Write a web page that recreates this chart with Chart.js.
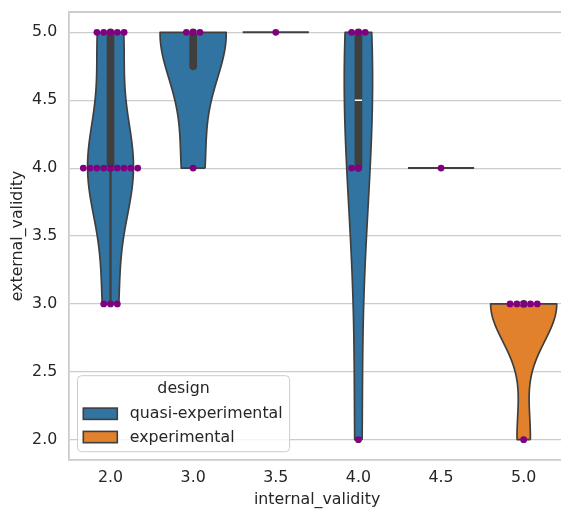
<!DOCTYPE html>
<html>
<head>
<meta charset="utf-8">
<script src="https://cdn.jsdelivr.net/npm/chart.js@4.4.1/dist/chart.umd.min.js"></script>
<style>
  html, body { margin: 0; padding: 0; background: #ffffff; overflow: hidden; }
  #wrap { width: 561px; height: 510px; overflow: hidden; position: relative; }
  canvas { display: block; }
</style>
</head>
<body>
<div id="wrap"><canvas id="chart" width="566" height="510"></canvas></div>
<script>
// internal_validity levels (x categories) and y tick values
const categories = ['2.0', '3.0', '3.5', '4.0', '4.5', '5.0'];
const yTicks = [2.0, 2.5, 3.0, 3.5, 4.0, 4.5, 5.0];

// external_validity observations for each internal_validity level, per design
const quasiExperimental = [
  [5, 5, 5, 5, 5, 4, 4, 4, 4, 4, 4, 4, 4, 4, 3, 3, 3],
  [5, 5, 5, 4],
  [5],
  [5, 5, 5, 4, 4, 2],
  [4],
  []
];
const experimental = [
  [], [], [], [], [],
  [3, 3, 3, 3, 3, 2]
];
const designs = ['quasi-experimental', 'experimental'];

// styling
const FONT = 'DejaVu Sans';
const FONT_SIZE = 15.8;
const TEXT = '#262626';
const GRID = '#cccccc';
const EDGE = '#3f3f3f';
const designColors = ['#3274a1', '#e1812c'];
const POINT_COLOR = '#800080';
const VIOLIN_WIDTH = 0.8;     // in category units
const POINT_RADIUS = 3.4;
const SWARM_STEP = 6.8;       // px between neighbouring swarm points

// Gaussian KDE with Scott's bandwidth, evaluated between min and max (cut = 0)
function kde(obs, gridsize = 100) {
  const n = obs.length;
  const mean = obs.reduce((a, b) => a + b, 0) / n;
  const sd = Math.sqrt(obs.reduce((a, b) => a + (b - mean) ** 2, 0) / (n - 1));
  const bw = sd * Math.pow(n, -1 / 5);
  const lo = Math.min(...obs), hi = Math.max(...obs);
  const support = [], density = [];
  for (let i = 0; i < gridsize; i++) {
    const y = lo + (hi - lo) * i / (gridsize - 1);
    let d = 0;
    for (const v of obs) d += Math.exp(-0.5 * ((y - v) / bw) ** 2);
    support.push(y);
    density.push(d / (n * bw * Math.sqrt(2 * Math.PI)));
  }
  return { support, density };
}

function percentile(sorted, p) {
  const idx = (sorted.length - 1) * p;
  const lo = Math.floor(idx), hi = Math.ceil(idx);
  return sorted[lo] + (sorted[hi] - sorted[lo]) * (idx - lo);
}

const datasets = [];
[quasiExperimental, experimental].forEach((series, h) => {
  const fits = series.map(obs => new Set(obs).size > 1 ? kde(obs) : null);
  // area normalisation within each design
  const maxD = Math.max(...fits.filter(Boolean).map(f => Math.max(...f.density)));
  series.forEach((obs, i) => {
    if (!obs.length) return;
    const fit = fits[i];
    if (fit) {
      const half = d => d / maxD * VIOLIN_WIDTH / 2;
      const right = fit.support.map((y, k) => ({ x: i + half(fit.density[k]), y }));
      const left = fit.support.map((y, k) => ({ x: i - half(fit.density[k]), y })).reverse();
      datasets.push({
        type: 'line', data: [...right, ...left, right[0]],
        backgroundColor: designColors[h], borderColor: EDGE, borderWidth: 1.7,
        borderJoinStyle: 'round',
        fill: 'shape', pointRadius: 0, tension: 0.0001, order: 5
      });
      // inner box: whiskers, interquartile bar, median tick
      const s = [...obs].sort((a, b) => a - b);
      const q1 = percentile(s, 0.25), q3 = percentile(s, 0.75), med = percentile(s, 0.5);
      const iqr = q3 - q1;
      const wlo = Math.min(q1, ...s.filter(v => v >= q1 - 1.5 * iqr));
      const whi = Math.max(q3, ...s.filter(v => v <= q3 + 1.5 * iqr));
      datasets.push({
        type: 'line', data: [{ x: i, y: wlo }, { x: i, y: whi }],
        borderColor: EDGE, borderWidth: 2.4, pointRadius: 0, fill: false, order: 4
      });
      datasets.push({
        type: 'line', data: [{ x: i, y: q1 }, { x: i, y: q3 > q1 ? q3 : q1 + 1e-4 }],
        borderColor: EDGE, borderWidth: 7.7, borderCapStyle: 'round',
        pointRadius: 0, fill: false, order: 3
      });
      datasets.push({
        type: 'scatter', data: [{ x: i, y: med }],
        pointStyle: 'line', pointRadius: 3.6, pointBorderColor: '#ffffff',
        pointBorderWidth: 1.6, order: 2
      });
    } else {
      // a single distinct value is drawn as a flat line across the violin width
      datasets.push({
        type: 'line',
        data: [{ x: i - VIOLIN_WIDTH / 2, y: obs[0] }, { x: i + VIOLIN_WIDTH / 2, y: obs[0] }],
        borderColor: EDGE, borderWidth: 2, pointRadius: 0, fill: false, order: 5
      });
    }
    // swarm points: equal values spread sideways, centre first then left/right
    const counts = {};
    const pts = obs.map(v => {
      const k = counts[v] = (counts[v] || 0) + 1;
      const slot = k === 1 ? 0 : (k % 2 === 0 ? -(k / 2) : (k - 1) / 2);
      return { x: i, y: v, slot };
    });
    datasets.push({
      type: 'scatter', data: pts, swarm: true,
      pointRadius: POINT_RADIUS, pointBackgroundColor: POINT_COLOR,
      pointBorderWidth: 0, order: 1
    });
  });
});

const swarmShift = {
  id: 'swarmShift',
  afterDatasetsUpdate(chart) {
    const xs = chart.scales.x;
    chart.data.datasets.forEach((ds, di) => {
      if (!ds.swarm) return;
      chart.getDatasetMeta(di).data.forEach((pt, k) => {
        pt.x = xs.getPixelForValue(ds.data[k].x) + ds.data[k].slot * SWARM_STEP;
      });
    });
  }
};

// top and right spines
const frame = {
  id: 'frame',
  beforeDatasetsDraw(chart) {
    const { ctx, chartArea: a } = chart;
    ctx.save();
    ctx.strokeStyle = GRID;
    ctx.lineWidth = 1.8;
    ctx.beginPath();
    ctx.moveTo(a.left, a.top);
    ctx.lineTo(a.right, a.top);
    ctx.lineTo(a.right, a.bottom);
    ctx.stroke();
    ctx.restore();
  }
};

const designLegend = {
  id: 'designLegend',
  afterDraw(chart) {
    const { ctx, chartArea: a } = chart;
    ctx.save();
    ctx.font = `${FONT_SIZE}px "${FONT}"`;
    const textW = Math.max(...designs.map(t => ctx.measureText(t).width));
    const x0 = a.left + 8.3, y1 = a.bottom - 8.3;
    const w = 52.3 + textW + 7, h = 76;
    const y0 = y1 - h;
    ctx.beginPath();
    ctx.roundRect(x0, y0, w, h, 4);
    ctx.fillStyle = 'rgba(255,255,255,0.8)';
    ctx.fill();
    ctx.strokeStyle = GRID;
    ctx.lineWidth = 1;
    ctx.stroke();
    ctx.fillStyle = TEXT;
    ctx.textBaseline = 'middle';
    ctx.textAlign = 'center';
    ctx.fillText('design', x0 + w / 2, y0 + 13.5);
    ctx.textAlign = 'left';
    designs.forEach((t, k) => {
      const cy = y0 + 38 + k * 23.3;
      ctx.fillStyle = designColors[k];
      ctx.fillRect(x0 + 5.8, cy - 5.6, 34, 11.3);
      ctx.strokeStyle = EDGE;
      ctx.lineWidth = 1.6;
      ctx.strokeRect(x0 + 5.8, cy - 5.6, 34, 11.3);
      ctx.fillStyle = TEXT;
      ctx.fillText(t, x0 + 52.3, cy + 0.5);
    });
    ctx.restore();
  }
};

new Chart(document.getElementById('chart'), {
  type: 'line',
  data: { datasets },
  plugins: [swarmShift, frame, designLegend],
  options: {
    responsive: false,
    animation: false,
    events: [],
    layout: { autoPadding: false, padding: { top: 12, right: 1, left: 0, bottom: 0 } },
    plugins: { legend: { display: false }, tooltip: { enabled: false } },
    scales: {
      x: {
        type: 'linear', min: -0.5, max: categories.length - 0.5,
        afterBuildTicks: s => { s.ticks = categories.map((_, i) => ({ value: i })); },
        afterFit: s => { s.height = 50; s.paddingLeft = 0; s.paddingRight = 0; },
        ticks: {
          callback: v => categories[v], padding: 8,
          font: { family: FONT, size: FONT_SIZE }, color: TEXT
        },
        grid: { display: false, drawTicks: false },
        border: { display: true, color: GRID, width: 1.8 },
        title: {
          display: true, text: 'internal_validity', color: TEXT,
          font: { family: FONT, size: FONT_SIZE, lineHeight: 1.2 },
          padding: { top: 0, bottom: 1 }
        }
      },
      y: {
        type: 'linear', min: 1.85, max: 5.15,
        afterBuildTicks: s => { s.ticks = yTicks.map(v => ({ value: v })); },
        afterFit: s => { s.width = 69.2; s.paddingTop = 0; s.paddingBottom = 0; },
        ticks: {
          callback: v => Number(v).toFixed(1), padding: 12,
          font: { family: FONT, size: FONT_SIZE }, color: TEXT
        },
        grid: { color: GRID, lineWidth: 1.2, drawTicks: false },
        border: { display: true, color: GRID, width: 1.8 },
        title: {
          display: true, text: 'external_validity', color: TEXT,
          font: { family: FONT, size: FONT_SIZE, lineHeight: 1.2 },
          padding: { top: 8, bottom: 0 }
        }
      }
    }
  }
});
</script>
</body>
</html>
